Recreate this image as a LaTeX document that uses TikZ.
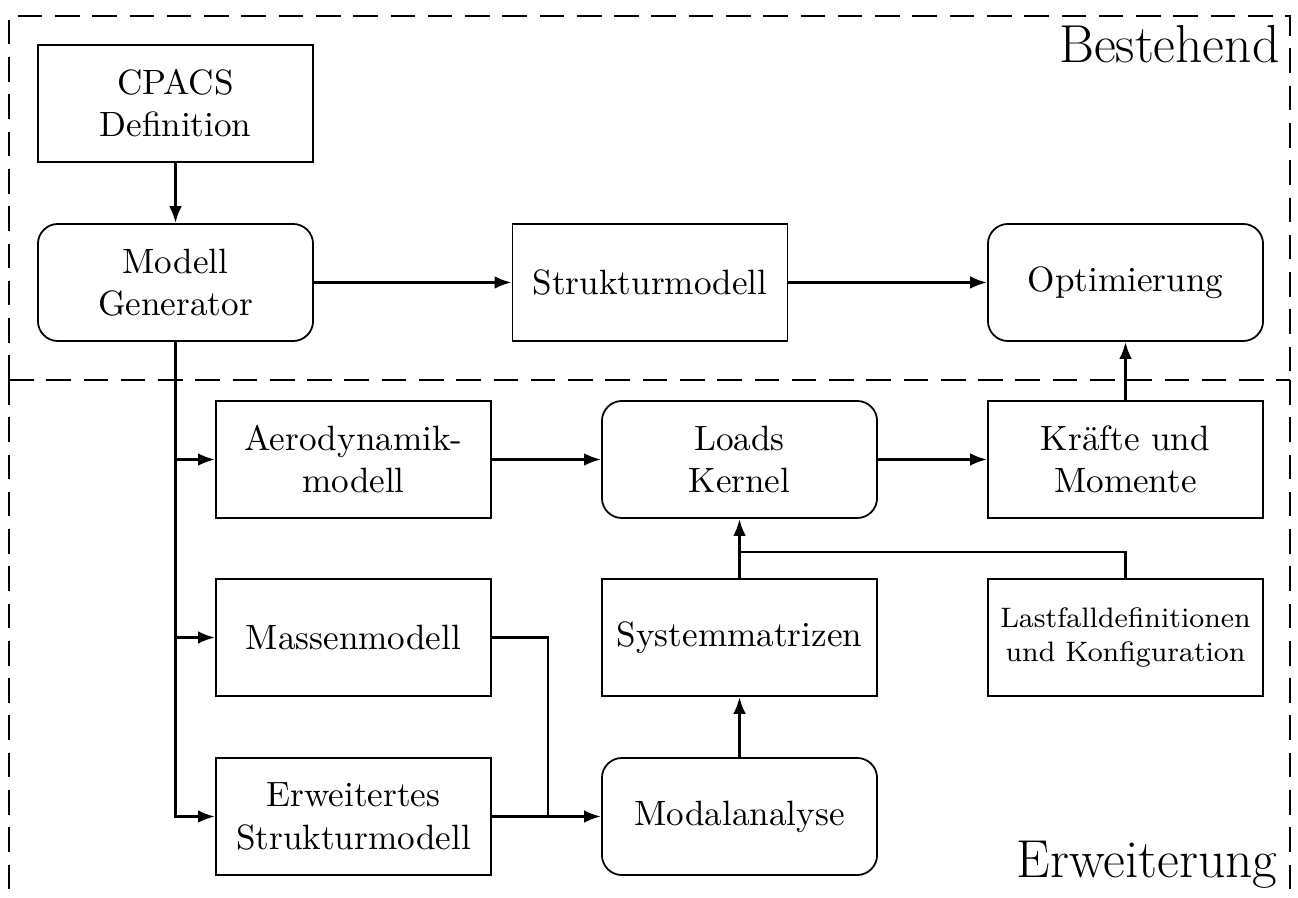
\documentclass[tikz,border=0pt]{standalone}
\usetikzlibrary{arrows.meta}
\begin{document}
\begin{tikzpicture}[x=0.01cm,y=-0.01cm,
  box/.style={draw,line width=0.5pt,minimum width=2.75cm,minimum height=1.17cm,
              inner sep=0pt,align=center,font=\normalsize},
  rbox/.style={box,rounded corners=0.2cm},
  conn/.style={line width=0.8pt,-{Latex[length=4.8pt,width=3.6pt]}},
  wire/.style={line width=0.8pt},
  frame/.style={line width=0.8pt,dash pattern=on 7pt off 3.6pt},
  zone/.style={anchor=base east,font=\fontsize{15.2}{18}\selectfont,inner sep=0pt}]
\clip (0,0) rectangle (1298,898);

% the two areas, sharing one dashed border between them
\draw[frame] (9,380) -- (9,16) -- (1290,16) -- (1290,380);
\draw[frame] (9,380) -- (1290,380);
\draw[frame] (9,380) -- (9,930);
\draw[frame] (1290,380) -- (1290,930);
\node[zone] (tb) at (1280,63) {Bestehend};
\node[zone] (te) at (1278,877) {Erweiterung};

% blocks
\node[box]  (cpacs)  at (175.5,103.5) {CPACS\\Definition};
\node[rbox] (gen)    at (175.5,282.5) {Modell\\Generator};
\node[box]  (struct) at (650,282.5)   {Strukturmodell};
\node[rbox] (opt)    at (1125.5,282.5){Optimierung};
\node[box]  (aero)   at (353.5,459.5) {Aerodynamik-\\modell};
\node[rbox] (loads)  at (739.5,459.5) {Loads\\Kernel};
\node[box]  (force)  at (1125.5,459.5){Kräfte und\\Momente};
\node[box]  (mass)   at (353.5,637.5) {Massenmodell};
\node[box]  (sysm)   at (739.5,637.5) {Systemmatrizen};
\node[box,font=\footnotesize] (lastf) at (1125.5,637.5)
      {Lastfalldefinitionen\\und Konfiguration};
\node[box]  (ext)    at (353.5,816.5) {Erweitertes\\Strukturmodell};
\node[rbox] (modal)  at (739.5,816.5) {Modalanalyse};

% junctions
\coordinate (jl) at (739.5,552);
\coordinate (jm) at (548,816.5);

% connectors
\draw[conn] (cpacs) -- (gen);
\draw[conn] (gen) -- (struct);
\draw[conn] (struct) -- (opt);
\draw[conn] (gen.south) |- (ext.west);
\draw[conn] (gen.south |- aero.west) -- (aero.west);
\draw[conn] (gen.south |- mass.west) -- (mass.west);
\draw[conn] (aero) -- (loads);
\draw[conn] (loads) -- (force);
\draw[conn] (force) -- (opt);
\draw[conn] (sysm) -- (loads);
\draw[wire] (lastf.north) |- (jl);
\draw[conn] (modal) -- (sysm);
\draw[wire] (mass.east) -| (jm);
\draw[conn] (ext) -- (modal);
\end{tikzpicture}
\end{document}
